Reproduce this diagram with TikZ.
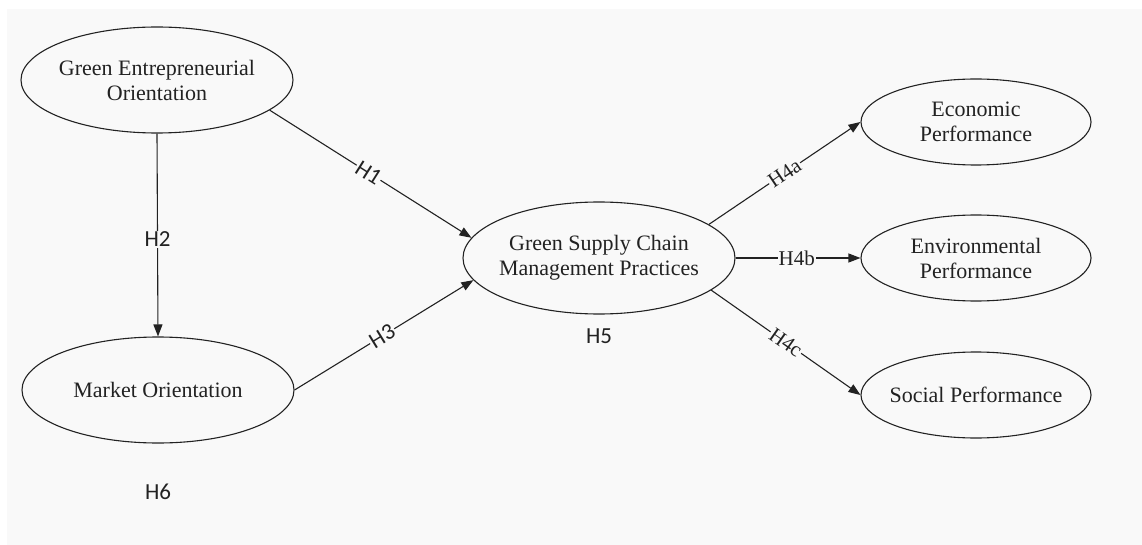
\documentclass[tikz,border=0pt]{standalone}
\usepackage{fontspec}
\setmainfont{Liberation Serif}
\newfontfamily\labelfont{Carlito}
\usetikzlibrary{shapes.geometric,arrows.meta}
\definecolor{paper}{HTML}{F9F9F9}
\definecolor{ink}{HTML}{222222}
\tikzset{
  construct/.style={draw=ink, line width=1.1pt, ellipse, inner xsep=-30pt, inner ysep=-12pt,
    align=center, font=\fontsize{22}{25}\selectfont, text=ink},
  big/.style={minimum width=272pt, minimum height=106pt},
  small/.style={minimum width=230pt, minimum height=86pt},
  link/.style={draw=ink, line width=1.1pt, -{Triangle[length=12pt,width=9pt]}},
  hyp/.style={fill=paper, inner sep=1pt, text=ink, font=\labelfont\fontsize{23}{24}\selectfont},
  hypserif/.style={fill=paper, inner sep=1pt, text=ink, font=\fontsize{21}{22}\selectfont},
  plainlabel/.style={text=ink, font=\labelfont\fontsize{23}{24}\selectfont}
}
\begin{document}
\begin{tikzpicture}[x=1pt, y=-1pt]
  % canvas
  \fill[white] (0,0) rectangle (1142,545);
  \fill[paper] (7,9) rectangle (1142,545);
  \useasboundingbox (0,0) rectangle (1142,545);

  % constructs
  \node[construct, big] (geo) at (157,80) {Green Entrepreneurial\\Orientation};
  \node[construct, big] (mo) at (158,390) {Market Orientation};
  \node[construct, minimum width=272pt, minimum height=112pt] (gscm) at (599,258)
    {Green Supply Chain\\Management Practices};
  \node[construct, small] (econ) at (976,122) {Economic\\Performance};
  \node[construct, small] (env) at (976,258) {Environmental\\Performance};
  \node[construct, small] (soc) at (976,395) {Social Performance};

  % hypothesised paths
  \draw[link] (geo.south) -- node[hyp, pos=0.52] {H2} (mo.north);
  \draw[link] (geo.-15) -- node[hyp, sloped, pos=0.49] {H1} (gscm.171);
  \draw[link] (mo.east) -- node[hyp, sloped, pos=0.49] {H3} (gscm.190);
  \draw[link] (gscm.17) -- node[hypserif, sloped, pos=0.5] {H4a} (econ.west);
  \draw[link] (gscm.east) -- node[hypserif, pos=0.49] {H4b} (env.west);
  \draw[link] (gscm.-16) -- node[hypserif, sloped, pos=0.5] {H4c} (soc.west);

  % mediation / moderation labels
  \node[plainlabel] (h5) at (599,336) {H5};
  \node[plainlabel] (h6) at (158,492) {H6};
\end{tikzpicture}
\end{document}
